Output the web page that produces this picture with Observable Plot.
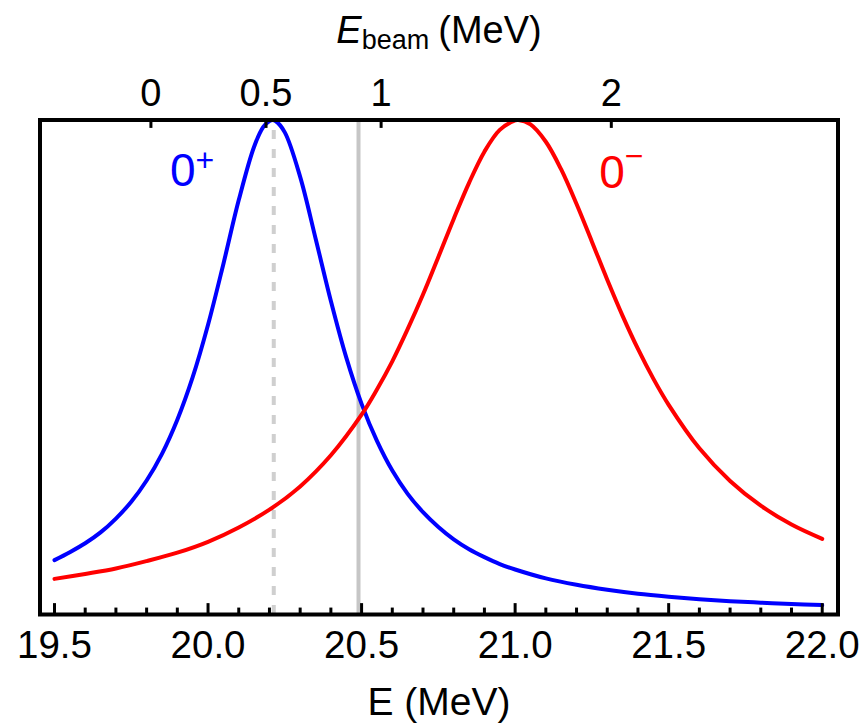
<!DOCTYPE html>
<html><head><meta charset="utf-8">
<script src="https://cdn.jsdelivr.net/npm/d3@7"></script>
<script src="https://cdn.jsdelivr.net/npm/@observablehq/plot@0.6"></script>
<style>body{margin:0;background:#fff}</style>
</head><body><div id="chart"></div>
<script>
// 0+ resonance (blue), relative yield vs excitation energy E (MeV)
const blueE = [19.50,19.55,19.60,19.65,19.70,19.75,19.80,19.85,19.90,19.95,20.00,20.05,20.10,20.15,20.18,20.20,20.21,20.22,20.25,20.30,20.35,20.40,20.45,20.50,20.55,20.60,20.65,20.70,20.75,20.80,20.85,20.90,20.95,21.00,21.10,21.20,21.30,21.40,21.50,21.60,21.70,21.80,21.90,22.00];
const blueY = [0.110,0.126,0.144,0.166,0.194,0.228,0.271,0.325,0.394,0.480,0.586,0.709,0.838,0.946,0.986,0.998,1.000,0.998,0.975,0.885,0.761,0.634,0.520,0.426,0.351,0.291,0.244,0.207,0.177,0.152,0.132,0.116,0.102,0.091,0.073,0.060,0.050,0.042,0.036,0.031,0.027,0.024,0.021,0.019];
// 0- resonance (red)
const redE = [19.50,19.60,19.70,19.80,19.90,20.00,20.10,20.20,20.30,20.40,20.50,20.55,20.60,20.65,20.70,20.75,20.80,20.85,20.90,20.95,21.00,21.01,21.05,21.10,21.15,21.20,21.25,21.30,21.35,21.40,21.45,21.50,21.60,21.70,21.80,21.90,22.00];
const redY = [0.072,0.082,0.093,0.108,0.125,0.147,0.176,0.212,0.259,0.322,0.404,0.455,0.512,0.577,0.647,0.723,0.800,0.873,0.936,0.980,0.999,1.000,0.991,0.956,0.900,0.830,0.754,0.677,0.604,0.537,0.477,0.424,0.336,0.270,0.220,0.182,0.153];

// bottom axis (E)
const bottomTicks = [19.5,20.0,20.5,21.0,21.5,22.0];
const bottomTickLabels = ["19.5","20.0","20.5","21.0","21.5","22.0"];
const minorTicks = [19.6,19.7,19.8,19.9,20.1,20.2,20.3,20.4,20.6,20.7,20.8,20.9,21.1,21.2,21.3,21.4,21.6,21.7,21.8,21.9];
// top axis (E_beam), related to E by kinematics: E = Q + k * Ebeam
const beamTicks = [0,0.5,1,2];
const beamTickLabels = ["0","0.5","1","2"];
const Q = 19.814, k = 0.7496;
// reference lines
const dashedLineE = [20.214];
const solidLineE = [20.49];
// state labels
const stateNames = ["0","0"];
const stateSigns = ["+","\u2212"];
const stateE = [19.948,21.346];
const stateV = [0.897,0.893];
const stateColors = ["#0000ff","#ff0000"];
const xTitle = "E (MeV)";
const topTitle = "Ebeam (MeV)";

const blue = blueE.map((e,i)=>({e, v: blueY[i]}));
const red = redE.map((e,i)=>({e, v: redY[i]}));
const beamPos = beamTicks.map(b => Q + k*b);
const states = stateNames.map((n,i)=>({n, s: stateSigns[i], e: stateE[i], v: stateV[i], c: stateColors[i]}));

const plot = Plot.plot({
  width: 861, height: 724,
  marginLeft: 39.5, marginRight: 23.5, marginTop: 119.5, marginBottom: 110,
  x: {domain: [19.4528, 22.0514], axis: null},
  y: {domain: [0, 1], axis: null},
  style: {fontFamily: "'Liberation Sans', Arial, Helvetica, sans-serif", background: "#fff", color: "#000"},
  marks: [
    Plot.ruleX(dashedLineE, {y1: 0, y2: 1, stroke: "#cfcfcf", strokeWidth: 4, strokeDasharray: "9 10"}),
    Plot.ruleX(solidLineE, {y1: 0, y2: 1, stroke: "#c6c6c6", strokeWidth: 4}),
    Plot.line(blue, {x: "e", y: "v", stroke: "#0000ff", strokeWidth: 4, curve: "catmull-rom"}),
    Plot.line(red, {x: "e", y: "v", stroke: "#ff0000", strokeWidth: 4, curve: "catmull-rom"}),
    Plot.ruleX(minorTicks, {y1: 0, y2: 0.013, stroke: "#000", strokeWidth: 3}),
    Plot.ruleX(bottomTicks, {y1: 0, y2: 0.022, stroke: "#000", strokeWidth: 3}),
    Plot.ruleX(beamPos, {y1: 1, y2: 0.983, stroke: "#000", strokeWidth: 3}),
    Plot.text(bottomTicks, {x: d => d, frameAnchor: "bottom", lineAnchor: "middle", dy: 31, text: (d,i) => bottomTickLabels[i], fontSize: 38.5, fill: "#000"}),
    Plot.text(beamPos, {x: d => d, frameAnchor: "top", lineAnchor: "middle", dy: -26.5, text: (d,i) => beamTickLabels[i], fontSize: 38, fill: "#000"}),
    Plot.text([xTitle], {frameAnchor: "bottom", lineAnchor: "middle", dy: 88, text: d => d, fontSize: 39, fill: "#000"}),
    Plot.text([topTitle], {frameAnchor: "top", lineAnchor: "middle", dy: -89, text: d => d, fontSize: 38, fill: "#000"}),
    Plot.text(states, {x: "e", y: "v", lineAnchor: "middle", text: d => d.n + d.s, fill: d => d.c, fontSize: 46}),
    Plot.frame({stroke: "#000", strokeWidth: 4})
  ]
});

// rich text: italic E with subscript, superscript parity signs
d3.select(plot).selectAll("text").each(function() {
  const t = this.textContent;
  const el = d3.select(this);
  if (t === topTitle) {
    el.text("");
    el.append("tspan").attr("font-style", "italic").text("E");
    el.append("tspan").attr("font-size", 27).attr("dy", 6).text("beam");
    el.append("tspan").attr("dy", -6).attr("dx", 9).text("(MeV)");
  } else {
    const st = states.find(s => s.n + s.s === t);
    if (st) {
      el.text("");
      el.append("tspan").text(st.n);
      el.append("tspan").attr("font-size", 32).attr("dy", st.s === "+" ? -15 : -21).text(st.s);
    }
  }
});

document.getElementById("chart").appendChild(plot);
</script>
</body></html>
